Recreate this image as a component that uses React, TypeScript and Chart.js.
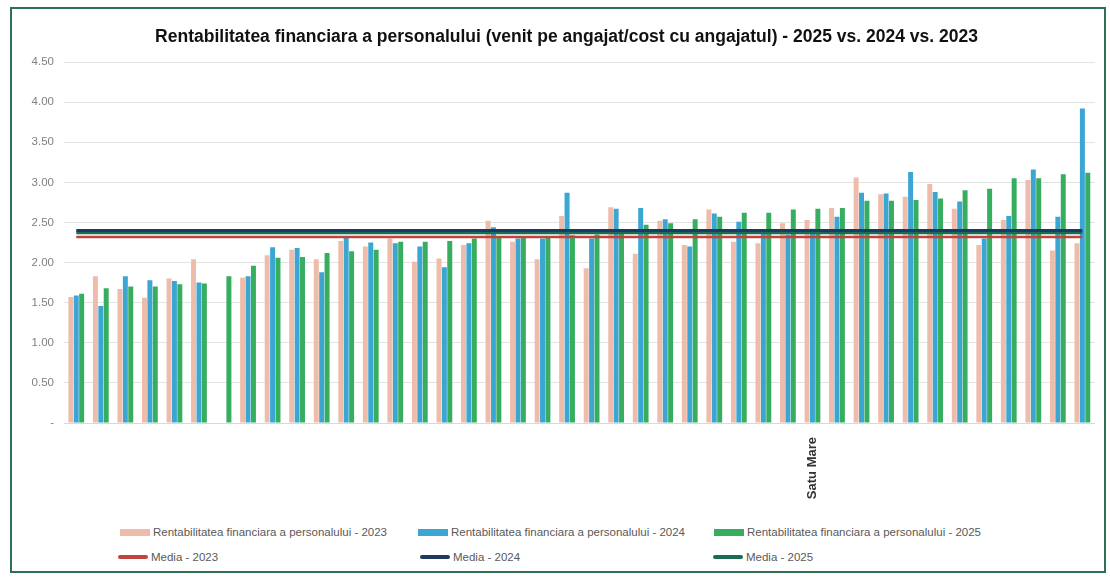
import React, { useEffect, useRef } from "react";
import { Chart, registerables } from "chart.js";

Chart.register(...registerables);

const titleText =
  "Rentabilitatea financiara a personalului (venit pe angajat/cost cu angajatul) - 2025 vs. 2024 vs. 2023";

const categories = [
  "", "", "", "", "", "", "", "", "", "",
  "", "", "", "", "", "", "", "", "", "",
  "", "", "", "", "", "", "", "", "", "",
  "Satu Mare", "", "", "", "", "", "", "", "", "",
  "", "",
];

const values2023 = [
  1.57, 1.83, 1.67, 1.56, 1.8, 2.04, null, 1.81, 2.09, 2.16,
  2.04, 2.27, 2.2, 2.3, 2.01, 2.05, 2.22, 2.52, 2.26, 2.04,
  2.58, 1.93, 2.69, 2.11, 2.52, 2.22, 2.66, 2.26, 2.24, 2.49,
  2.53, 2.68, 3.06, 2.85, 2.82, 2.98, 2.67, 2.22, 2.53, 3.03,
  2.15, 2.24,
];

const values2024 = [
  1.59, 1.46, 1.83, 1.78, 1.77, 1.75, null, 1.83, 2.19, 2.18,
  1.88, 2.31, 2.25, 2.24, 2.2, 1.94, 2.24, 2.44, 2.3, 2.3,
  2.87, 2.3, 2.67, 2.68, 2.54, 2.2, 2.61, 2.51, 2.37, 2.35,
  2.42, 2.57, 2.87, 2.86, 3.13, 2.88, 2.76, 2.3, 2.58, 3.16,
  2.57, 3.92,
];

const values2025 = [
  1.61, 1.68, 1.7, 1.7, 1.73, 1.74, 1.83, 1.96, 2.06, 2.07,
  2.12, 2.14, 2.16, 2.26, 2.26, 2.27, 2.3, 2.31, 2.32, 2.33,
  2.34, 2.35, 2.38, 2.47, 2.49, 2.54, 2.57, 2.62, 2.62, 2.66,
  2.67, 2.68, 2.77, 2.77, 2.78, 2.8, 2.9, 2.92, 3.05, 3.05,
  3.1, 3.12,
];

const media2023 = 2.32;
const media2024 = 2.4;
const media2025 = 2.37;

const seriesLabels = [
  "Rentabilitatea financiara a personalului - 2023",
  "Rentabilitatea financiara a personalului - 2024",
  "Rentabilitatea financiara a personalului - 2025",
];
const mediaLabels = ["Media - 2023", "Media - 2024", "Media - 2025"];

const yTicks = [0, 0.5, 1, 1.5, 2, 2.5, 3, 3.5, 4, 4.5];

const COLORS = {
  c2023: "#eebcab",
  c2024: "#3ba6d2",
  c2025: "#36ad5f",
  m2023: "#c0443c",
  m2024: "#1f3a5f",
  m2025: "#1b6b55",
};

const FONT = "'Liberation Sans', Arial, sans-serif";

function LegendItem({ left, top, color, label, line }: any) {
  return (
    <div
      style={{
        position: "absolute",
        left,
        top,
        display: "flex",
        alignItems: "center",
        height: 14,
        fontFamily: FONT,
        fontSize: 11.5,
        color: "#595959",
        whiteSpace: "nowrap",
      }}
    >
      <span
        style={{
          display: "inline-block",
          width: 30,
          height: line ? 4 : 7,
          background: color,
          marginRight: 3,
          borderRadius: line ? 2 : 0,
        }}
      />
      <span>{label}</span>
    </div>
  );
}

export default function App() {
  const canvasRef = useRef<HTMLCanvasElement | null>(null);

  useEffect(() => {
    if (!canvasRef.current) return;
    const n = categories.length;
    const chart = new Chart(canvasRef.current, {
      type: "bar",
      data: {
        labels: categories,
        datasets: [
          {
            type: "bar",
            label: seriesLabels[0],
            data: values2023,
            backgroundColor: COLORS.c2023,
            order: 10,
            categoryPercentage: 0.66,
            barPercentage: 0.92,
          },
          {
            type: "bar",
            label: seriesLabels[1],
            data: values2024,
            backgroundColor: COLORS.c2024,
            order: 10,
            categoryPercentage: 0.66,
            barPercentage: 0.92,
          },
          {
            type: "bar",
            label: seriesLabels[2],
            data: values2025,
            backgroundColor: COLORS.c2025,
            order: 10,
            categoryPercentage: 0.66,
            barPercentage: 0.92,
          },
          {
            type: "line",
            label: mediaLabels[0],
            data: new Array(n).fill(media2023),
            borderColor: COLORS.m2023,
            borderWidth: 2.5,
            pointRadius: 0,
            order: 3,
          },
          {
            type: "line",
            label: mediaLabels[2],
            data: new Array(n).fill(media2025),
            borderColor: COLORS.m2025,
            borderWidth: 3,
            pointRadius: 0,
            order: 2,
          },
          {
            type: "line",
            label: mediaLabels[1],
            data: new Array(n).fill(media2024),
            borderColor: COLORS.m2024,
            borderWidth: 3,
            pointRadius: 0,
            order: 1,
          },
        ],
      },
      options: {
        animation: false,
        responsive: false,
        maintainAspectRatio: false,
        layout: { padding: { left: 18, right: 1, top: 0, bottom: 0 } },
        plugins: {
          legend: { display: false },
          tooltip: { enabled: false },
          title: {
            display: true,
            text: titleText,
            color: "#111111",
            font: { family: FONT, size: 17.5, weight: "bold" },
            padding: { top: 18, bottom: 14 },
          },
        },
        scales: {
          x: {
            grid: { display: false },
            border: { display: true, color: "#d9d9d9" },
            ticks: {
              autoSkip: false,
              maxRotation: 90,
              minRotation: 90,
              color: "#333333",
              font: { family: FONT, size: 13, weight: "bold" },
              padding: 6,
            },
            afterFit: (scale: any) => {
              scale.height = 96;
            },
          },
          y: {
            min: 0,
            max: 4.5,
            afterBuildTicks: (scale: any) => {
              scale.ticks = yTicks.map((v) => ({ value: v }));
            },
            grid: { color: "#e3e3e3", drawTicks: false },
            border: { display: false },
            ticks: {
              color: "#808080",
              font: { family: FONT, size: 11.5 },
              padding: 10,
              callback: (v: any) => (Number(v) === 0 ? "-" : Number(v).toFixed(2)),
            },
            afterFit: (scale: any) => {
              scale.width = 34;
            },
          },
        },
      },
    });
    return () => chart.destroy();
  }, []);

  return (
    <div
      style={{
        position: "absolute",
        left: 10,
        top: 7,
        width: 1096,
        height: 566,
        border: "2px solid #2f6f52",
        boxSizing: "border-box",
        background: "#ffffff",
      }}
    >
      <canvas
        ref={canvasRef}
        width={1092}
        height={510}
        style={{ position: "absolute", left: 0, top: 0, width: 1092, height: 510 }}
      />
      <LegendItem left={108} top={516} color={COLORS.c2023} label={seriesLabels[0]} />
      <LegendItem left={406} top={516} color={COLORS.c2024} label={seriesLabels[1]} />
      <LegendItem left={702} top={516} color={COLORS.c2025} label={seriesLabels[2]} />
      <LegendItem left={106} top={541} color={COLORS.m2023} label={mediaLabels[0]} line />
      <LegendItem left={408} top={541} color={COLORS.m2024} label={mediaLabels[1]} line />
      <LegendItem left={701} top={541} color={COLORS.m2025} label={mediaLabels[2]} line />
    </div>
  );
}
